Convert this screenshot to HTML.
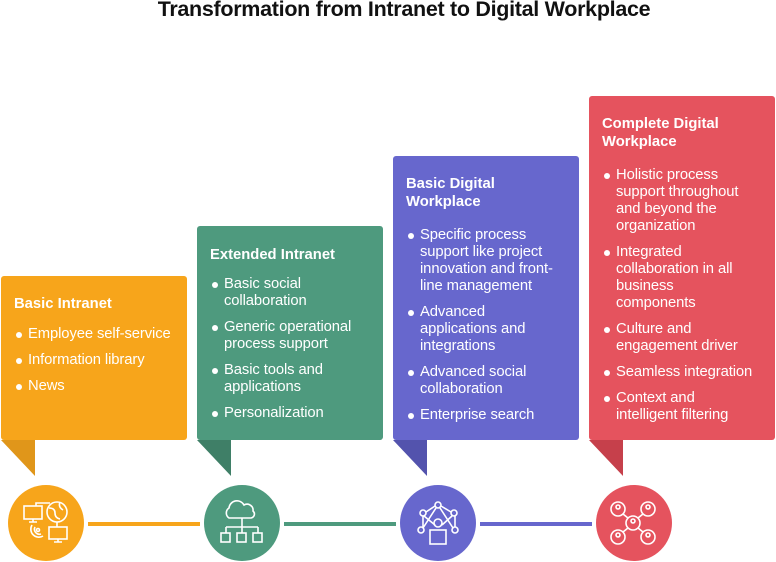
<!DOCTYPE html>
<html><head><meta charset="utf-8"><style>
*{margin:0;padding:0;box-sizing:border-box}
body{width:776px;height:562px;background:#fff;position:relative;overflow:hidden;font-family:"Liberation Sans",sans-serif;color:#fff}
h1{position:absolute;left:0;width:808px;top:-3px;text-align:center;font-size:21.5px;font-weight:bold;color:#111;letter-spacing:-0.3px}
.box{position:absolute;width:186px;border-radius:3px;padding-left:13px}
.t{position:absolute;left:13px;font-weight:bold;font-size:14.8px;line-height:18px}
ul{position:absolute;left:13px;list-style:none;font-size:14.8px;line-height:17px;letter-spacing:-0.1px}
li{position:relative;padding-left:14px;margin-bottom:9px;white-space:nowrap}
li:before{content:"";position:absolute;left:2px;top:6px;width:6px;height:6px;border-radius:50%;background:#fff}
.tail{position:absolute;width:0;height:0;border-style:solid}
.c{position:absolute;width:76px;height:76px;border-radius:50%;top:485px}
.ln{position:absolute;height:4px;top:522px}
</style></head><body>
<h1>Transformation from Intranet to Digital Workplace</h1>

<div class="box" style="left:1px;top:276px;height:164px;background:#F7A51B">
<div class="t" style="top:19px">Basic Intranet</div>
<ul style="top:50px"><li>Employee self-service</li><li>Information library</li><li>News</li></ul></div>
<div class="tail" style="left:1px;top:440px;border-width:0 34px 36px 0;border-color:transparent #E0961A transparent transparent"></div>

<div class="box" style="left:197px;top:226px;height:214px;background:#4E9A7E">
<div class="t" style="top:20px">Extended Intranet</div>
<ul style="top:50px"><li>Basic social<br>collaboration</li><li>Generic operational<br>process support</li><li>Basic tools and<br>applications</li><li>Personalization</li></ul></div>
<div class="tail" style="left:197px;top:440px;border-width:0 34px 36px 0;border-color:transparent #3F7F67 transparent transparent"></div>

<div class="box" style="left:393px;top:156px;height:284px;background:#6767CD">
<div class="t" style="top:19px">Basic Digital<br>Workplace</div>
<ul style="top:71px"><li>Specific process<br>support like project<br>innovation and front-<br>line management</li><li>Advanced<br>applications and<br>integrations</li><li>Advanced social<br>collaboration</li><li>Enterprise search</li></ul></div>
<div class="tail" style="left:393px;top:440px;border-width:0 34px 36px 0;border-color:transparent #5353AD transparent transparent"></div>

<div class="box" style="left:589px;top:96px;height:344px;background:#E5535E">
<div class="t" style="top:19px">Complete Digital<br>Workplace</div>
<ul style="top:71px"><li>Holistic process<br>support throughout<br>and beyond the<br>organization</li><li>Integrated<br>collaboration in all<br>business<br>components</li><li>Culture and<br>engagement driver</li><li>Seamless integration</li><li>Context and<br>intelligent filtering</li></ul></div>
<div class="tail" style="left:589px;top:440px;border-width:0 34px 36px 0;border-color:transparent #C6404B transparent transparent"></div>

<div class="ln" style="left:88px;width:112px;background:#F7A51B"></div>
<div class="ln" style="left:284px;width:112px;background:#4E9A7E"></div>
<div class="ln" style="left:480px;width:112px;background:#6767CD"></div>

<div class="c" style="left:8px;background:#F7A51B"></div>
<div class="c" style="left:204px;background:#4E9A7E"></div>
<div class="c" style="left:400px;background:#6767CD"></div>
<div class="c" style="left:596px;background:#E5535E"></div>

<svg width="776" height="562" style="position:absolute;left:0;top:0" fill="none" stroke="#fff" stroke-width="1.6">
<rect x="24" y="506" width="18" height="13"/><path d="M33 519v3M29 522h8"/>
<circle cx="57" cy="512" r="10"/><path d="M49 508q6 0 6 5t5 6M60 502q-2 5 3 8"/>
<path d="M36 506v-3h14M57 522v5"/>
<rect x="49" y="527" width="18" height="12"/><path d="M58 539v3M54 542h8"/>
<circle cx="38" cy="530" r="1.5"/><path d="M35 527a5 5 0 0 0 6 7M32 525a8 8 0 0 0 11 11"/>
<path d="M232 518h-3a6 6 0 0 1 0-10a8 8 0 0 1 15-3a6 6 0 0 1 9 6a4 4 0 0 1-2 7z"/>
<path d="M242 518v9M226 527h32M226 527v6M242 527v6M258 527v6"/>
<rect x="221" y="533" width="9" height="9"/><rect x="237" y="533" width="9" height="9"/><rect x="253" y="533" width="9" height="9"/>
<circle cx="438" cy="505" r="3"/><circle cx="423" cy="513" r="3"/><circle cx="454" cy="513" r="3"/><circle cx="421" cy="530" r="3"/><circle cx="455" cy="530" r="3"/>
<path d="M435 506l-9 6M441 506l10 6M436 508l-13 20M440 508l13 20M424 516l11 9M452 516l-10 9M423 516v11M455 516v11"/>
<circle cx="438" cy="523" r="4"/><rect x="430" y="530" width="16" height="14"/>
<g><circle cx="618" cy="509" r="7"/><circle cx="648" cy="509" r="7"/><circle cx="633" cy="523" r="7"/><circle cx="618" cy="537" r="7"/><circle cx="648" cy="537" r="7"/>
<path d="M623 514l5 4M643 514l-5 4M623 532l5-4M643 532l-5-4"/>
<circle cx="618" cy="507" r="2"/><circle cx="648" cy="507" r="2"/><circle cx="633" cy="521" r="2"/><circle cx="618" cy="535" r="2"/><circle cx="648" cy="535" r="2"/></g>
</svg>
</body></html>
